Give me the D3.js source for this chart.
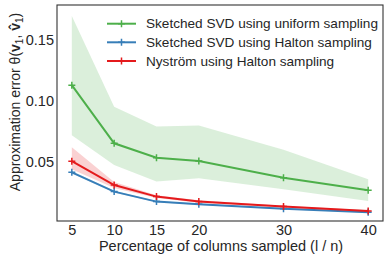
<!DOCTYPE html>
<html><head><meta charset="utf-8">
<script src="https://cdn.jsdelivr.net/npm/d3@7"></script>
<style>body{margin:0;background:#fff}svg{display:block;font-family:"Liberation Sans",Arial,sans-serif}</style>
</head><body><svg id="c" width="390" height="260"></svg>
<script>
const xs = [5, 10, 15, 20, 30, 40];
const xTicks = [5, 10, 15, 20, 30, 40];
const yTicks = [0.05, 0.10, 0.15];
const seriesNames = ["Sketched SVD using uniform sampling", "Sketched SVD using Halton sampling", "Nyström using Halton sampling"];
const colors = ["#4daf4a", "#377eb8", "#e41a1c"];
const uniformMean = [0.113, 0.0653, 0.0535, 0.0508, 0.0371, 0.0268];
const uniformLow  = [0.072, 0.0475, 0.034, 0.0366, 0.0277, 0.018];
const uniformHigh = [0.1697, 0.0953, 0.079, 0.080, 0.060, 0.0358];
const haltonMean = [0.0415, 0.0257, 0.0175, 0.0153, 0.0117, 0.0088];
const haltonLow  = [0.0405, 0.0250, 0.0169, 0.0147, 0.0112, 0.0083];
const haltonHigh = [0.0425, 0.0264, 0.0181, 0.0159, 0.0122, 0.0093];
const nysMean = [0.0506, 0.0311, 0.0216, 0.0175, 0.0134, 0.0098];
const nysLow  = [0.044, 0.0287, 0.0205, 0.0166, 0.0127, 0.0092];
const nysHigh = [0.062, 0.0335, 0.0228, 0.0186, 0.0142, 0.0104];

const svg = d3.select("#c");
const L = 57, R = 383, T = 5, B = 221;
const x = d3.scaleLinear().domain([3.25, 41.75]).range([L, R]);
const y = d3.scaleLinear().domain([0.0016, 0.1787]).range([B, T]);

const series = [
  {mean: uniformMean, low: uniformLow, high: uniformHigh, c: colors[0]},
  {mean: haltonMean, low: haltonLow, high: haltonHigh, c: colors[1]},
  {mean: nysMean, low: nysLow, high: nysHigh, c: colors[2]}
];
const area = d3.area().x((d,i)=>x(xs[i])).y0(d=>y(d[0])).y1(d=>y(d[1]));
const line = d3.line().x((d,i)=>x(xs[i])).y(d=>y(d));
const g = svg.append("g");
series.forEach(s => {
  g.append("path").attr("d", area(s.low.map((v,i)=>[v, s.high[i]])))
    .attr("fill", s.c).attr("fill-opacity", 0.2).attr("stroke", "none");
  g.append("path").attr("d", line(s.mean)).attr("fill","none").attr("stroke", s.c).attr("stroke-width", 2);
  s.mean.forEach((v,i) => {
    const cx = x(xs[i]), cy = y(v);
    g.append("path").attr("d", `M${cx-3.5},${cy}H${cx+3.5}M${cx},${cy-3.5}V${cy+3.5}`)
      .attr("stroke", s.c).attr("stroke-width", 1.5);
  });
});

// frame
svg.append("rect").attr("x", L).attr("y", T).attr("width", R-L).attr("height", B-T)
  .attr("fill","none").attr("stroke","#333").attr("stroke-width",1.1);

// axes
const xa = svg.append("g").attr("transform", `translate(0,${B})`)
  .call(d3.axisBottom(x).tickValues(xTicks).tickSize(0).tickPadding(4).tickFormat(d3.format("d")));
xa.select(".domain").remove();
xa.selectAll("text").attr("font-size", 14.5).attr("fill", "#262626").attr("font-family", "Liberation Sans, Arial, sans-serif");
const ya = svg.append("g").attr("transform", `translate(${L},0)`)
  .call(d3.axisLeft(y).tickValues(yTicks).tickSize(0).tickPadding(3).tickFormat(d3.format(".2f")));
ya.select(".domain").remove();
ya.selectAll("text").attr("font-size", 14.5).attr("fill", "#262626").attr("font-family", "Liberation Sans, Arial, sans-serif");

svg.append("text").attr("x", (L+R)/2 + 1).attr("y", 251).attr("text-anchor","middle")
  .attr("font-size", 14.5).attr("fill","#262626").text("Percentage of columns sampled (l / n)");

const yl = svg.append("text").attr("transform", "translate(20,102) rotate(-90)")
  .attr("text-anchor","middle").attr("font-size", 14).attr("fill","#262626");
yl.append("tspan").text("Approximation error θ(");
yl.append("tspan").attr("font-weight","bold").text("v");
yl.append("tspan").attr("font-size", 10).attr("dy", 3).text("1");
yl.append("tspan").attr("dy", -3).text(", ");
yl.append("tspan").attr("font-weight","bold").text("v\u0302");
yl.append("tspan").attr("font-size", 10).attr("dy", 3).text("1");
yl.append("tspan").attr("dy", -3).text(")");

// legend
const ly = [23.7, 42.3, 61];
seriesNames.forEach((n,i) => {
  const lg = svg.append("g");
  lg.append("line").attr("x1",107).attr("x2",136).attr("y1",ly[i]).attr("y2",ly[i]).attr("stroke",colors[i]).attr("stroke-width",2);
  lg.append("path").attr("d", `M118,${ly[i]}H125M121.5,${ly[i]-3.5}V${ly[i]+3.5}`).attr("stroke",colors[i]).attr("stroke-width",1.5);
  lg.append("text").attr("x",146).attr("y",ly[i]).attr("dy","0.35em").attr("font-size",13.6).attr("fill","#262626").text(n);
});
</script></body></html>
